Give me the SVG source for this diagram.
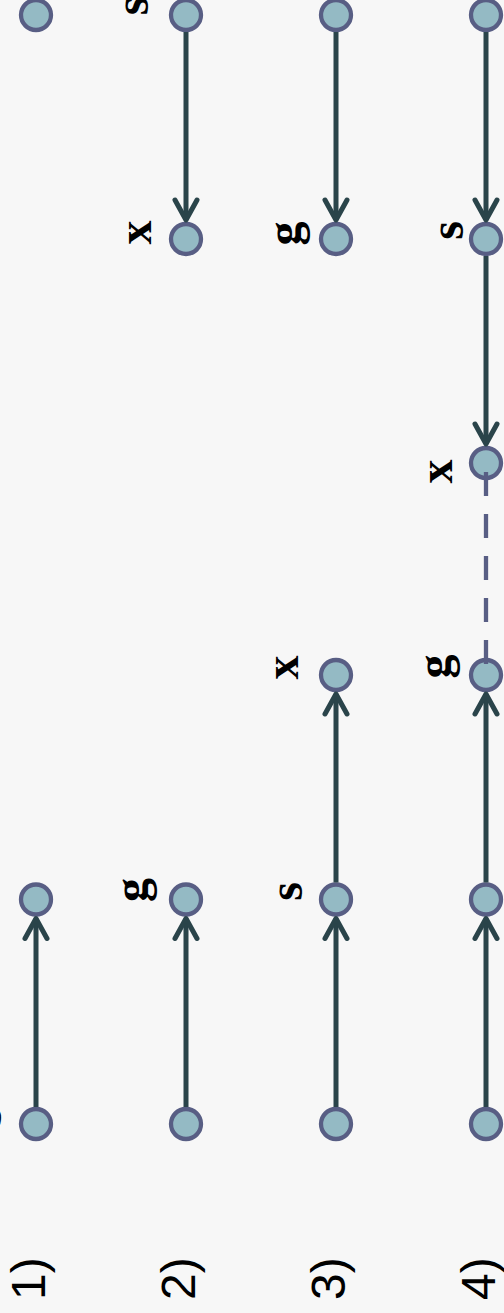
<svg xmlns="http://www.w3.org/2000/svg" width="504" height="1313" viewBox="0 0 504 1313">
  <defs>
    <marker id="chev" markerUnits="userSpaceOnUse" markerWidth="40" markerHeight="40" viewBox="-30 -20 40 40" refX="0" refY="0" orient="auto" overflow="visible">
      <path d="M -20 -11 L 0 0 L -20 11" fill="none" stroke="#2a444a" stroke-width="5" stroke-linecap="round" stroke-linejoin="round"/>
    </marker>
    <style>
      .node { fill: #94bac4; stroke: #585e84; stroke-width: 4.3; }
      .edge { fill: none; stroke: #2a444a; stroke-width: 5; marker-end: url(#chev); }
      .dash { fill: none; stroke: #585e84; stroke-width: 4.3; stroke-dasharray: 24 18; }
      .lbl { font-family: "Liberation Serif", "Times New Roman", serif; font-weight: bold; font-size: 48px; fill: #000; text-anchor: middle; }
      .num { font-family: "Liberation Sans", Arial, sans-serif; font-size: 48px; fill: #000; }
    </style>
  </defs>
  <rect width="504" height="1313" fill="#f7f7f7"/>

  <g id="nodes">
    <g id="c1n1"><circle class="node" cx="36" cy="15" r="15"/></g>
    <g id="c1n5"><circle class="node" cx="36" cy="899.5" r="15"/></g>
    <g id="c1n6"><circle class="node" cx="36" cy="1124" r="15"/></g>

    <g id="c2n1"><circle class="node" cx="186" cy="15" r="15"/></g>
    <g id="c2n2"><circle class="node" cx="186" cy="239" r="15"/></g>
    <g id="c2n5"><circle class="node" cx="186" cy="899.5" r="15"/></g>
    <g id="c2n6"><circle class="node" cx="186" cy="1124" r="15"/></g>

    <g id="c3n1"><circle class="node" cx="336" cy="15" r="15"/></g>
    <g id="c3n2"><circle class="node" cx="336" cy="239" r="15"/></g>
    <g id="c3n4"><circle class="node" cx="336" cy="675" r="15"/></g>
    <g id="c3n5"><circle class="node" cx="336" cy="899.5" r="15"/></g>
    <g id="c3n6"><circle class="node" cx="336" cy="1124" r="15"/></g>

    <g id="c4n1"><circle class="node" cx="486" cy="15" r="15"/></g>
    <g id="c4n2"><circle class="node" cx="486" cy="239" r="15"/></g>
    <g id="c4n3"><circle class="node" cx="486" cy="463" r="15"/></g>
    <g id="c4n4"><circle class="node" cx="486" cy="675" r="15"/></g>
    <g id="c4n5"><circle class="node" cx="486" cy="899.5" r="15"/></g>
    <g id="c4n6"><circle class="node" cx="486" cy="1124" r="15"/></g>
  </g>

  <g id="connectors">
    <line class="edge" x1="36" y1="1107" x2="36" y2="918.5"/>

    <line class="edge" x1="186" y1="32" x2="186" y2="220"/>
    <line class="edge" x1="186" y1="1107" x2="186" y2="918.5"/>

    <line class="edge" x1="336" y1="32" x2="336" y2="220"/>
    <line class="edge" x1="336" y1="1107" x2="336" y2="918.5"/>
    <line class="edge" x1="336" y1="882.5" x2="336" y2="694"/>

    <line class="edge" x1="486" y1="32" x2="486" y2="220"/>
    <line class="edge" x1="486" y1="256" x2="486" y2="444"/>
    <line class="edge" x1="486" y1="1107" x2="486" y2="918.5"/>
    <line class="edge" x1="486" y1="882.5" x2="486" y2="694"/>
    <line class="dash" x1="486" y1="472" x2="486" y2="664"/>
  </g>

  <g id="labels">
    <text class="lbl" transform="translate(1,1117) rotate(-90)">s</text>
    <text class="lbl" transform="translate(148,6) rotate(-90)">s</text>
    <text class="lbl" transform="translate(151,232.5) rotate(-90)">x</text>
    <text class="lbl" transform="translate(300,233.5) rotate(-90)">g</text>
    <text class="lbl" transform="translate(463,230.5) rotate(-90)">s</text>
    <text class="lbl" transform="translate(452,471.5) rotate(-90)">x</text>
    <text class="lbl" transform="translate(298,667.5) rotate(-90)">x</text>
    <text class="lbl" transform="translate(450,666.5) rotate(-90)">g</text>
    <text class="lbl" transform="translate(147,890) rotate(-90)">g</text>
    <text class="lbl" transform="translate(302,891.5) rotate(-90)">s</text>
  </g>

  <g id="numbers">
    <text class="num" transform="translate(45,1300) rotate(-90)">1)</text>
    <text class="num" transform="translate(195,1300) rotate(-90)">2)</text>
    <text class="num" transform="translate(345,1300) rotate(-90)">3)</text>
    <text class="num" transform="translate(495,1300) rotate(-90)">4)</text>
  </g>
</svg>
